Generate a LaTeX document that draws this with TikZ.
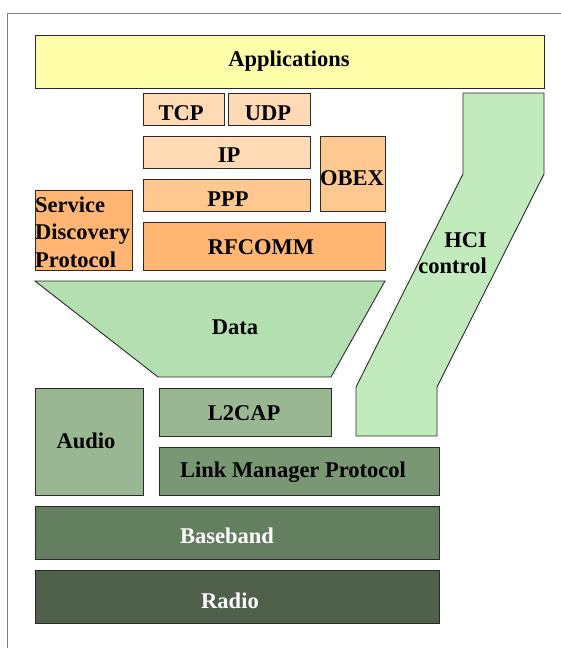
\documentclass[tikz,border=0pt]{standalone}
\usepackage{fontspec}
\setmainfont{Liberation Serif}
\definecolor{appcol}{HTML}{FFFFAA}
\definecolor{peachA}{HTML}{FFDAB4}
\definecolor{peachB}{HTML}{FFC891}
\definecolor{peachC}{HTML}{FFB673}
\definecolor{datacol}{HTML}{B4DFB0}
\definecolor{hcicol}{HTML}{C2EBBD}
\definecolor{greenA}{HTML}{99B892}
\definecolor{greenB}{HTML}{7A9774}
\definecolor{greenC}{HTML}{647E60}
\definecolor{greenD}{HTML}{4F614B}
\definecolor{edgecol}{HTML}{2A2A2A}
\tikzset{
  layer/.style={draw=edgecol, line width=0.9pt},
  lbl/.style={anchor=base, inner sep=0pt, font=\fontsize{22.5}{27}\selectfont\bfseries},
  wlbl/.style={lbl, text=white},
}
\begin{document}
\begin{tikzpicture}[x=1pt,y=-1pt]
\useasboundingbox (0,0) rectangle (561,648);
\fill[white] (0,0) rectangle (561,648);
% frame
\draw[gray, line width=1.6pt] (7.5,648) -- (7.5,13.5) -- (561,13.5);
% boxes
\path[layer, fill=appcol] (35,35) rectangle (544,88);
\path[layer, fill=peachA] (143,93) rectangle (224,125);
\path[layer, fill=peachA] (228,93) rectangle (310,125);
\path[layer, fill=peachA] (143,136) rectangle (310,168);
\path[layer, fill=peachB] (320,136) rectangle (385,211);
\path[layer, fill=peachB] (143,179) rectangle (310,211);
\path[layer, fill=peachC] (35,190) rectangle (132,270);
\path[layer, fill=peachC] (143,222) rectangle (385,270);
\path[layer, fill=datacol] (35,281) -- (385,281) -- (331,377) -- (158,377) -- cycle;
\path[layer, fill=hcicol] (463,93) -- (544,93) -- (544,174) -- (437,387) -- (437,436) -- (356,436) -- (356,387) -- (463,174) -- cycle;
\path[layer, fill=greenA] (35,388) rectangle (143,495);
\path[layer, fill=greenA] (159,388) rectangle (331,436);
\path[layer, fill=greenB] (159,447) rectangle (439,495);
\path[layer, fill=greenC] (35,506) rectangle (439,559);
\path[layer, fill=greenD] (35,570) rectangle (439,623);
% labels
\node[lbl] (app) at (289,66) {Applications};
\node[lbl] (tcp) at (181,120) {TCP};
\node[lbl] (udp) at (268,120) {UDP};
\node[lbl] (ip) at (229,162) {IP};
\node[lbl] (ppp) at (228,206) {PPP};
\node[lbl] (obex) at (352,185) {OBEX};
\node[lbl] (sdp1) at (35,212) [anchor=base west] {Service};
\node[lbl] (sdp2) at (35,239) [anchor=base west] {Discovery};
\node[lbl] (sdp3) at (35,267) [anchor=base west] {Protocol};
\node[lbl] (rfc) at (261,254) {RFCOMM};
\node[lbl] (data) at (235,334) {Data};
\node[lbl] (hci1) at (487,247) [anchor=base east] {HCI};
\node[lbl] (hci2) at (487,273) [anchor=base east] {control};
\node[lbl] (l2cap) at (244,420) {L2CAP};
\node[lbl] (audio) at (86,448) {Audio};
\node[lbl] (lmp) at (293,477) {Link Manager Protocol};
\node[wlbl] (bb) at (227,543) {Baseband};
\node[wlbl] (radio) at (230,608) {Radio};
\end{tikzpicture}
\end{document}
